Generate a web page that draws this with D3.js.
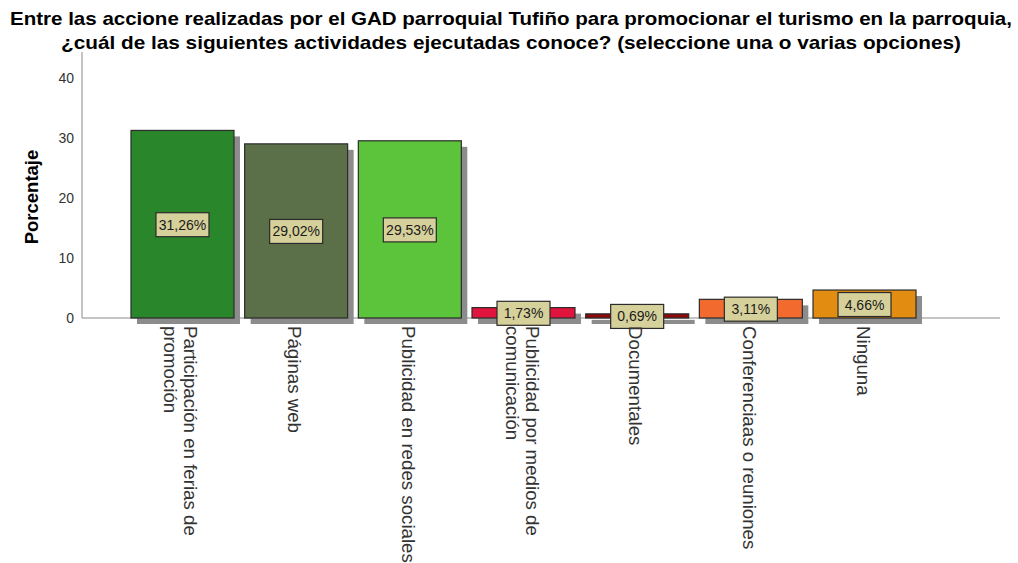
<!DOCTYPE html>
<html>
<head>
<meta charset="utf-8">
<script src="https://cdn.jsdelivr.net/npm/d3@7/dist/d3.min.js"></script>
<style>
  body { margin: 0; background: #fff; }
  svg { display: block; font-family: "Liberation Sans", Arial, sans-serif; }
</style>
</head>
<body>
<svg id="chart" width="1018" height="563"></svg>
<script>
// chart data
var categories = [
  ["Participación en ferias de", "promoción"],
  ["Páginas web"],
  ["Publicidad en redes sociales"],
  ["Publicidad por medios de", "comunicación"],
  ["Documentales"],
  ["Conferenciaas o reuniones"],
  ["Ninguna"]
]
var values = [31.26, 29.02, 29.53, 1.73, 0.69, 3.11, 4.66]
var yTicks = [0, 10, 20, 30, 40]
var titleLines = [
  "Entre las accione realizadas por el GAD parroquial Tufiño para promocionar el turismo en la parroquia,",
  "¿cuál de las siguientes actividades ejecutadas conoce? (seleccione una o varias opciones)"
]
var barColors = ["#2a862a", "#5b6f48", "#5cc43a", "#e0143c", "#8c0a0a", "#f36a2e", "#e38c12"]

var SHADOW = 6

var svg = d3.select("#chart")

var keys = categories.map(function(c, i) { return i })

var x = d3.scaleBand()
  .domain(keys)
  .range([120.3, 926.7])
  .padding(0.094)

var y = d3.scaleLinear()
  .domain([0, 44.33])
  .range([318, 52])

// title
svg.selectAll(".title")
  .data(titleLines)
  .enter().append("text")
  .attr("class", "title")
  .attr("x", 511)
  .attr("y", function(d, i) { return 25 + i * 24 })
  .attr("text-anchor", "middle")
  .attr("font-size", 19)
  .attr("font-weight", "bold")
  .attr("fill", "#000")
  .attr("textLength", function(d, i) { return i == 0 ? 1002 : 900 })
  .attr("lengthAdjust", "spacingAndGlyphs")
  .text(function(d) { return d })

// axes (plain lines, no tick marks)
svg.append("line")
  .attr("x1", 82).attr("x2", 82)
  .attr("y1", y.range()[1]).attr("y2", y(0))
  .attr("stroke", "#8a8a8a")
svg.append("line")
  .attr("x1", 82).attr("x2", 1000)
  .attr("y1", y(0)).attr("y2", y(0))
  .attr("stroke", "#8a8a8a")

svg.selectAll(".ytick")
  .data(yTicks)
  .enter().append("text")
  .attr("class", "ytick")
  .attr("x", 74)
  .attr("y", function(d) { return y(d) })
  .attr("dy", "0.35em")
  .attr("text-anchor", "end")
  .attr("font-size", 14)
  .attr("fill", "#333")
  .text(function(d) { return d })

svg.append("text")
  .attr("transform", "translate(38,197) rotate(-90)")
  .attr("text-anchor", "middle")
  .attr("font-size", 18.5)
  .attr("font-weight", "bold")
  .attr("fill", "#000")
  .text("Porcentaje")

// bar shadows
svg.selectAll(".shadow")
  .data(values)
  .enter().append("rect")
  .attr("class", "shadow")
  .attr("x", function(d, i) { return x(i) + SHADOW })
  .attr("y", function(d) { return y(d) + SHADOW })
  .attr("width", x.bandwidth())
  .attr("height", function(d) { return y(0) - y(d) })
  .attr("fill", "#8c8c8c")

// bars
svg.selectAll(".bar")
  .data(values)
  .enter().append("rect")
  .attr("class", "bar")
  .attr("x", function(d, i) { return x(i) })
  .attr("y", function(d) { return y(d) })
  .attr("width", x.bandwidth())
  .attr("height", function(d) { return y(0) - y(d) })
  .attr("fill", function(d, i) { return barColors[i] })
  .attr("stroke", "#2b2b2b")
  .attr("stroke-width", 1.2)

// value labels in boxes
var fmt = d3.format(".2f")
var labels = svg.selectAll(".vlabel")
  .data(values)
  .enter().append("g")
  .attr("class", "vlabel")
  .attr("transform", function(d, i) {
    return "translate(" + (x(i) + x.bandwidth() / 2) + "," + ((y(d) + y(0)) / 2 + 0.5) + ")"
  })

labels.append("rect")
  .attr("x", -26.5)
  .attr("y", -12)
  .attr("width", 53)
  .attr("height", 24)
  .attr("fill", "#d6d09a")
  .attr("stroke", "#2b2b2b")
  .attr("stroke-width", 1.2)

labels.append("text")
  .attr("text-anchor", "middle")
  .attr("dy", "0.36em")
  .attr("font-size", 14)
  .attr("fill", "#1a1a1a")
  .text(function(d) { return fmt(d).replace(".", ",") + "%" })

// rotated category labels
var LINE = 20
svg.selectAll(".cat")
  .data(categories)
  .enter().append("g")
  .attr("class", "cat")
  .each(function(lines, i) {
    var cx = x(i) + x.bandwidth() / 2
    var first = cx - 8 + (lines.length - 1) * LINE / 2
    d3.select(this).selectAll("text")
      .data(lines)
      .enter().append("text")
      .attr("transform", function(d, j) {
        return "translate(" + (first - j * LINE) + ",326) rotate(90)"
      })
      .attr("font-size", 18.7)
      .attr("fill", "#333")
      .text(function(d) { return d })
  })
</script>
</body>
</html>
